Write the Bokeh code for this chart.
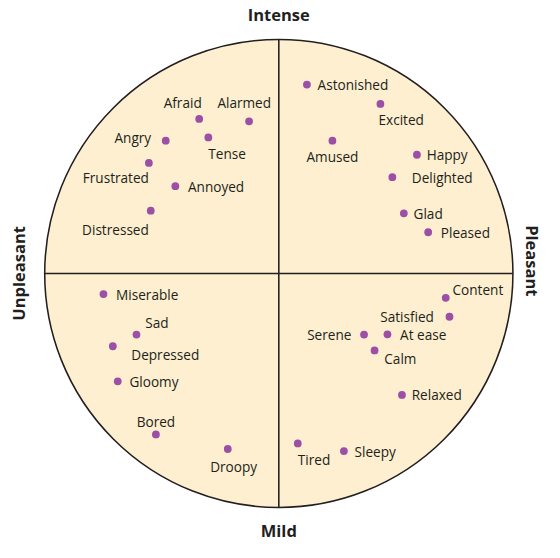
import math
from bokeh.plotting import figure
from bokeh.models import ColumnDataSource
from bokeh.core.properties import value
from bokeh.embed import file_html
from bokeh.resources import INLINE

# Emotion words: valence (x, unpleasant -> pleasant), arousal (y, mild -> intense)
words = ["Astonished", "Excited", "Amused", "Happy", "Delighted", "Glad", "Pleased",
         "Afraid", "Alarmed", "Angry", "Tense", "Frustrated", "Annoyed", "Distressed",
         "Miserable", "Sad", "Depressed", "Gloomy", "Bored", "Droopy",
         "Tired", "Sleepy", "Content", "Satisfied", "Serene", "At ease", "Calm", "Relaxed"]
valence = [0.120, 0.434, 0.229, 0.590, 0.485, 0.534, 0.638,
           -0.340, -0.127, -0.483, -0.301, -0.555, -0.442, -0.547,
           -0.749, -0.608, -0.709, -0.688, -0.525, -0.218,
           0.081, 0.278, 0.713, 0.729, 0.364, 0.464, 0.409, 0.526]
arousal = [0.807, 0.724, 0.567, 0.507, 0.411, 0.257, 0.176,
           0.660, 0.650, 0.567, 0.581, 0.472, 0.373, 0.268,
           -0.088, -0.261, -0.311, -0.461, -0.688, -0.750,
           -0.726, -0.759, -0.104, -0.185, -0.261, -0.260, -0.329, -0.519]

axis_titles = ["Intense", "Mild", "Unpleasant", "Pleasant"]

# label placement (layout only, in reference pixels)
dx = [11, -2, 0, 10, 20, 10, 13, -17, -5, -15, 0, 0, 13, -2,
      13, 9, 19, 12, 0, 6, 0, 11, 7, -16, -13, 13, 10, 10]
dy = [0, 16, 16, 0, 0, 0, 0, -17, -19, -3, 17, 15, 0, 19,
      0, -12, 8, 0, -13, 18, 17, 0, -9, 0, 0, 0, 8, 0]
align = ["left", "left", "center", "left", "left", "left", "left",
         "center", "center", "right", "left", "right", "left", "right",
         "left", "left", "left", "left", "center", "center",
         "left", "left", "left", "right", "right", "left", "left", "left"]

W, H = 544, 542
REF_W, REF_H = 560, 558
s = W / REF_W
scale = 241.0
cx, cy = 286.5, 281.0  # centre in reference pixels
x0 = -cx / scale
x1 = (REF_W - cx) / scale
y1 = cy / scale
y0 = -(REF_H - cy) / scale

p = figure(width=W, height=H, x_range=(x0, x1), y_range=(y0, y1),
           output_backend="svg", toolbar_location=None,
           x_axis_location=None, y_axis_location=None, min_border=0)
p.grid.visible = False
p.outline_line_color = None
p.background_fill_color = "white"
p.border_fill_color = "white"

ink = "#231f20"
p.circle(x=[0], y=[0], radius=1, fill_color="#fdefcf", line_color=ink, line_width=1.6 * s)
p.segment(x0=[-1, 0], y0=[0, -1], x1=[1, 0], y1=[0, 1], line_color=ink, line_width=1.6 * s)

src = ColumnDataSource(dict(x=valence, y=arousal, name=words,
                            dx=[v * s for v in dx], dy=[v * s for v in dy], align=align))
p.scatter("x", "y", source=src, size=8 * s, fill_color="#9b4fa6", line_color=None)
p.text("x", "y", text="name", source=src, x_offset="dx", y_offset="dy",
       text_align="align", text_baseline="middle",
       text_font=value("Open Sans"), text_font_size=f"{14 * s:.1f}px", text_color=ink)

# quadrant axis titles
tfs = f"{17 * s:.1f}px"
p.text(x=[0], y=[1.108], text=[axis_titles[0]], text_align="center",
       text_baseline="middle", text_font=value("Open Sans"), text_font_size=tfs,
       text_font_style="bold", text_color=ink)
p.text(x=[0], y=[-1.098], text=[axis_titles[1]], text_align="center",
       text_baseline="middle", text_font=value("Open Sans"), text_font_size=tfs,
       text_font_style="bold", text_color=ink)
p.text(x=[-1.11], y=[0], text=[axis_titles[2]], angle=math.pi / 2, text_align="center",
       text_baseline="middle", text_font=value("Open Sans"), text_font_size=tfs,
       text_font_style="bold", text_color=ink)
p.text(x=[1.085], y=[0.054], text=[axis_titles[3]], angle=-math.pi / 2, text_align="center",
       text_baseline="middle", text_font=value("Open Sans"), text_font_size=tfs,
       text_font_style="bold", text_color=ink)

open("out.html", "w").write(file_html(p, INLINE))
